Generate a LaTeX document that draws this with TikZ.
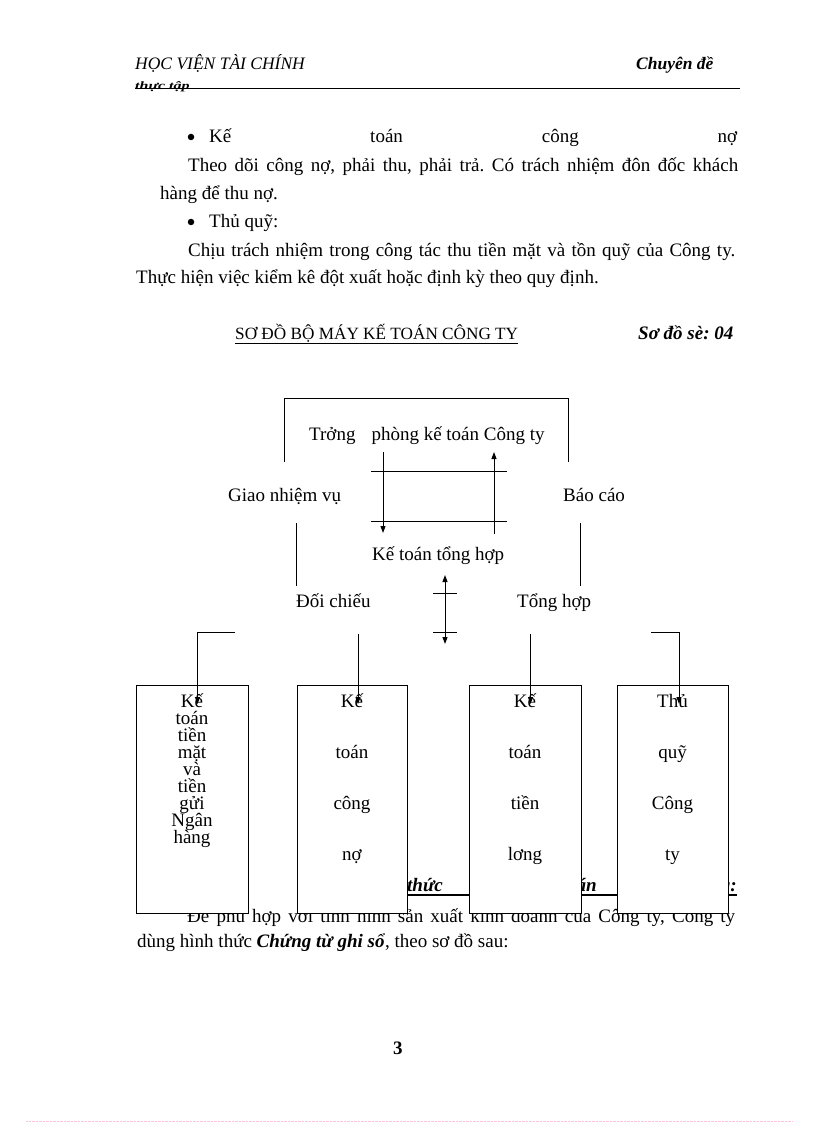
\documentclass[tikz,border=0pt]{standalone}
\usepackage{fontspec}
\setmainfont{Liberation Serif}
\usepackage{tikz}
\usetikzlibrary{arrows.meta}
\frenchspacing

\tikzset{
  txt/.style={anchor=base west, inner sep=0pt, font=\fontsize{19}{22}\selectfont},
  mid/.style={anchor=base, inner sep=0pt, font=\fontsize{19}{22}\selectfont},
  hdr/.style={anchor=base west, inner sep=0pt, font=\fontsize{17.5}{20}\selectfont\itshape},
  dot/.style={circle, fill, inner sep=0pt, minimum size=6.5pt},
  acct/.style={draw, fill=white, line width=1pt, anchor=north west, inner sep=0pt,
    minimum width=#1, minimum height=228pt},
  lnk/.style={line width=1pt},
  arr/.style={line width=1pt, -{Triangle[length=7pt,width=5pt]}},
  dbl/.style={line width=1pt, {Triangle[length=7pt,width=5pt]}-{Triangle[length=7pt,width=5pt]}}
}

\begin{document}
\begin{tikzpicture}[x=1pt,y=-1pt]
  \useasboundingbox[fill=white] (0,0) rectangle (816,1123);

  % page header
  \node[hdr] (hv) at (135,70) {HỌC VIỆN TÀI CHÍNH};
  \node[hdr, font=\fontsize{17.5}{20}\selectfont\bfseries\itshape] (cd) at (636,70) {Chuyên đề};
  \node[hdr, font=\fontsize{16}{18}\selectfont\bfseries\itshape] (tt) at (135,90) {\scalebox{1}[0.7]{thực tập}};
  \draw[line width=0.9pt] (135,88) -- (740,88);

  % body text
  \node[dot] (b1) at (191,137) {};
  \node[txt] (l1) at (209,143) {\makebox[528pt][s]{Kế toán công nợ}};
  \node[txt] (l2) at (188,172) {\makebox[550pt][s]{Theo dõi công nợ, phải thu, phải trả. Có trách nhiệm đôn đốc khách}};
  \node[txt] (l3) at (160,200) {hàng để thu nợ.};
  \node[dot] (b2) at (191,222) {};
  \node[txt] (l4) at (209,228) {Thủ quỹ:};
  \node[txt] (l5) at (188,256) {\makebox[547pt][s]{Chịu trách nhiệm trong công tác thu tiền mặt và tồn quỹ của Công ty.}};
  \node[txt] (l6) at (136,283) {Thực hiện việc kiểm kê đột xuất hoặc định kỳ theo quy định.};

  % title
  \node[txt, font=\fontsize{17.2}{20}\selectfont] (title) at (235,339) {\underline{SƠ ĐỒ BỘ MÁY KẾ TOÁN CÔNG TY}};
  \node[txt, font=\fontsize{19}{22}\selectfont\bfseries\itshape] (sd) at (638,339) {Sơ đồ sè: 04};

  % text under the boxes
  \draw[line width=1.8pt] (310,895) -- (737,895);
  \node[txt, anchor=base east, font=\fontsize{19}{22}\selectfont\bfseries\itshape] (h1) at (402,891) {Hình};
  \node[txt, font=\fontsize{19}{22}\selectfont\bfseries\itshape] (h2) at (407,891) {thức};
  \node[txt, anchor=base east, font=\fontsize{19}{22}\selectfont\bfseries\itshape] (h3) at (597,891) {kế toán};
  \node[txt, anchor=base east, font=\fontsize{19}{22}\selectfont\bfseries\itshape] (h4) at (737,891) {áp dụng:};
  \node[txt] (p1) at (187,922) {\makebox[548pt][s]{Để phù hợp với tình hình sản xuất kinh doanh của Công ty, Công ty}};
  \node[txt] (p2) at (137,947) {dùng hình thức \textbf{\textit{Chứng từ ghi sổ}}, theo sơ đồ sau:};

  % upper part of the chart
  \coordinate (brl) at (284,462);
  \coordinate (brr) at (568,462);
  \draw[lnk] (brl) -- (284,398) -- (568,398) -- (brr);
  \node[txt] (tp) at (309,440) {Trởng\hspace{16pt}phòng kế toán Công ty};
  \coordinate (dn1) at (383,452);
  \coordinate (dn2) at (383,533);
  \coordinate (up1) at (494,534);
  \coordinate (up2) at (494,452);
  \draw[arr] (dn1) -- (dn2);
  \draw[arr] (up1) -- (up2);
  \draw[lnk] (371,471) -- (507,471);
  \draw[lnk] (371,521) -- (507,521);
  \node[txt] (giao) at (228,501) {Giao nhiệm vụ};
  \node[txt] (bao) at (563,501) {Báo cáo};
  \node[txt] (th) at (372,560) {Kế toán tổng hợp};
  \draw[lnk] (296.5,523) -- (296.5,586);
  \draw[lnk] (580,523) -- (580,586);
  \node[txt] (dc) at (296,607) {Đối chiếu};
  \node[txt] (tgh) at (517,607) {Tổng hợp};
  \coordinate (dd1) at (445,575);
  \coordinate (dd2) at (445,644);
  \draw[dbl] (dd1) -- (dd2);
  \draw[lnk] (433,593) -- (457,593);
  \draw[lnk] (433,632) -- (457,632);

  % the four boxes
  \node[acct=112pt] (tm) at (136,685) {};
  \node[acct=110pt] (cn) at (297,685) {};
  \node[acct=112pt] (tl) at (469,685) {};
  \node[acct=111pt] (tq) at (617,685) {};
  \foreach \w [count=\i] in {Kế,toán,tiền,mặt,và,tiền,gửi,Ngân,hàng}
    \node[mid] (tm\i) at (192,{690+17*\i}) {\w};
  \foreach \w [count=\i] in {Kế,toán,công,nợ}
    \node[mid] (cn\i) at (352,{656+51*\i}) {\w};
  \foreach \w [count=\i] in {Kế,toán,tiền,lơng}
    \node[mid] (tl\i) at (525,{656+51*\i}) {\w};
  \foreach \w [count=\i] in {Thủ,quỹ,Công,ty}
    \node[mid] (tq\i) at (672.5,{656+51*\i}) {\w};

  % lines down to the boxes
  \coordinate (a1) at (235,632);
  \coordinate (a2) at (358,634);
  \coordinate (a3) at (530.5,634);
  \coordinate (a4) at (651,632);
  \draw[arr] (a1) -| (197.5,704);
  \draw[arr] (a2) -- (358,704);
  \draw[arr] (a3) -- (530.5,704);
  \draw[arr] (a4) -| (679,704);

  % page number
  \node[txt, font=\fontsize{19}{22}\selectfont\bfseries] (pg) at (393,1054) {3};
  \draw[magenta!25, densely dotted] (26,1121) -- (792,1121);
\end{tikzpicture}
\end{document}
